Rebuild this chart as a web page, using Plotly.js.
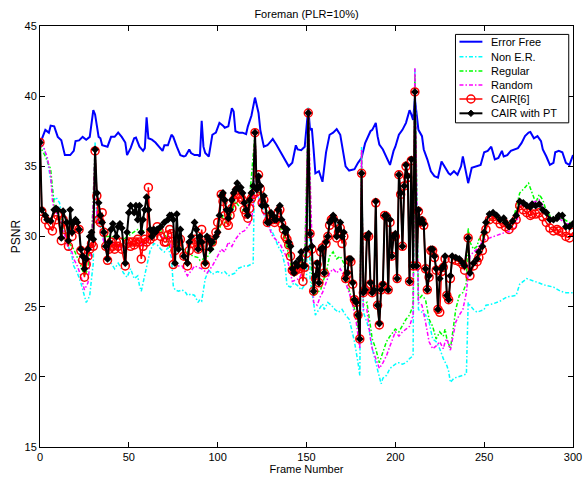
<!DOCTYPE html>
<html>
<head>
<meta charset="utf-8">
<script src="https://cdn.plot.ly/plotly-3.0.1.min.js"></script>
<style>html,body{margin:0;padding:0;background:#fff;}#chart{width:585px;height:481px;}</style>
</head>
<body>
<div id="chart"></div>
<script>
// ---- data (frame, PSNR) ----
var seriesNames = ["Error Free", "Non E.R.", "Regular", "Random", "CAIR[6]", "CAIR with PT"];
var xTicks = [0, 50, 100, 150, 200, 250, 300];
var yTicks = [15, 20, 25, 30, 35, 40, 45];

var errorFree = [[0,36.6],[3,37.6],[5,37.4],[6,37.9],[8,37.85],[10,37.1],[12,36.85],[14,35.8],[17,35.8],[19,36.1],[20,36.8],[22,36.85],[24,37.1],[26,36.9],[28,37.1],[29,38.3],[30,39.0],[31,38.7],[33,37.1],[34,37.0],[35,36.5],[38,36.4],[40,37.1],[42,37.1],[44,37.4],[46,37.1],[48,36.7],[49,35.8],[51,36.3],[53,37.0],[54,37.05],[56,36.4],[58,36.1],[59,36.3],[60,38.5],[61,37.0],[63,36.9],[65,36.7],[67,36.4],[69,36.1],[70,36.5],[72,36.5],[74,37.25],[75,37.1],[77,36.4],[79,35.8],[81,35.7],[82,35.75],[84,36.2],[85,35.95],[87,35.8],[89,35.8],[90,35.7],[91,38.25],[92,36.4],[93,35.95],[95,35.7],[96,36.4],[97,37.25],[99,37.4],[101,38.1],[103,37.9],[104,37.75],[106,37.85],[108,39.15],[109,38.9],[110,37.5],[112,37.4],[114,37.4],[116,37.3],[117,37.85],[119,38.6],[121,39.9],[123,38.8],[124,37.6],[126,36.4],[128,36.5],[130,36.8],[131,36.95],[133,36.55],[135,36.1],[137,35.6],[140,35.0],[142,35.25],[144,36.5],[145,36.2],[147,36.15],[149,36.4],[151,39.15],[152,37.6],[153,37.7],[154,36.2],[155,34.5],[157,34.65],[159,33.9],[161,36.0],[163,37.25],[165,37.4],[167,37.65],[169,37.25],[170,36.4],[172,35.0],[174,34.7],[177,34.8],[179,35.25],[181,35.6],[183,36.65],[185,37.25],[186,37.5],[187,37.6],[189,38.1],[190,37.15],[191,36.55],[193,36.2],[195,35.7],[197,35.1],[199,36.1],[200,36.4],[202,37.25],[204,37.6],[206,38.1],[208,39.0],[209,38.7],[210,38.3],[211,39.8],[213,37.6],[215,37.15],[216,36.2],[218,35.5],[220,34.65],[222,34.3],[224,34.2],[226,35.35],[228,34.9],[230,34.5],[231,34.4],[233,34.65],[235,34.4],[237,35.0],[238,35.7],[239,35.1],[241,33.8],[243,34.9],[245,35.0],[246,35.0],[248,35.1],[250,36.0],[252,36.1],[254,36.4],[256,35.5],[258,35.6],[260,36.1],[261,35.7],[263,35.8],[265,36.1],[267,36.2],[269,36.3],[271,36.65],[273,37.15],[275,37.4],[276,37.45],[278,37.0],[280,37.15],[282,36.8],[283,36.2],[285,35.7],[287,35.1],[289,35.25],[290,36.0],[292,36.1],[294,36.0],[296,35.25],[298,35.1],[300,35.8]];

var nonER = [[0,36.6],[2,36.4],[4,35.5],[5,34.8],[6,33.8],[7,33.1],[8,32.6],[9,32.8],[10,32.6],[11,32.4],[12,31.7],[14,30.3],[16,29.3],[18,28.6],[19,27.9],[21,27.4],[23,26.7],[25,25.8],[26,25.3],[27,25.5],[28,25.8],[29,27.0],[30,28.1],[31,36.7],[32,31.0],[33,31.2],[34,30.7],[36,29.6],[38,28.6],[40,28.1],[42,27.7],[44,28.1],[45,27.9],[47,27.4],[49,27.1],[51,27.7],[53,27.0],[55,27.2],[56,26.5],[57,26.1],[58,26.7],[60,27.9],[62,29.0],[64,29.5],[66,29.4],[68,29.1],[70,28.9],[72,29.2],[74,28.5],[75,26.5],[76,26.2],[78,26.1],[80,26.2],[82,26.0],[83,25.8],[85,25.9],[87,25.8],[89,25.3],[90,25.5],[91,25.4],[93,27.0],[95,27.6],[97,27.3],[98,27.4],[100,27.5],[102,27.4],[104,27.5],[106,27.2],[108,27.3],[110,27.4],[111,27.7],[113,27.8],[115,27.9],[117,27.9],[119,28.0],[120,28.1],[121,37.3],[122,33.1],[125,32.2],[128,31.0],[132,30.0],[134,29.3],[136,28.9],[138,27.9],[139,26.5],[141,26.4],[143,26.7],[145,26.5],[147,26.2],[149,26.5],[150,26.7],[151,39.2],[152,27.0],[155,24.4],[157,24.8],[159,25.2],[160,24.8],[162,25.3],[164,25.1],[166,24.8],[168,24.6],[170,24.8],[172,24.4],[174,24.1],[175,23.6],[177,22.5],[179,21.0],[180,20.1],[181,36.4],[182,24.6],[184,23.9],[186,22.9],[187,22.0],[189,21.0],[191,19.9],[192,19.5],[193,19.9],[195,20.1],[197,20.6],[199,20.8],[201,21.0],[202,21.0],[204,20.9],[206,21.0],[208,21.3],[210,21.5],[211,42.0],[213,24.8],[215,24.6],[217,24.4],[219,23.9],[221,22.7],[223,22.5],[225,22.0],[227,21.3],[229,20.8],[230,20.4],[231,19.6],[233,19.9],[235,20.0],[237,20.1],[240,20.2],[241,25.3],[242,25.1],[244,24.8],[246,24.6],[248,24.7],[250,24.8],[251,25.1],[255,25.2],[259,25.4],[263,25.7],[268,25.8],[270,26.6],[274,27.0],[278,26.8],[281,26.7],[285,26.5],[289,26.4],[293,26.1],[296,26.0],[300,26.0]];

var regular = [[0,36.6],[1,36.2],[3,35.7],[6,34.8],[8,32.2],[12,31.2],[16,29.6],[19,29.1],[23,27.9],[25,27.2],[27,27.7],[29,29.6],[31,36.3],[32,31.5],[36,30.0],[40,30.0],[47,29.8],[55,30.5],[62,30.3],[66,30.5],[70,30.3],[75,28.6],[78,29.5],[82,29.0],[86,28.6],[89,28.5],[90,28.3],[94,28.5],[98,29.3],[101,30.5],[103,31.5],[104,31.0],[106,31.0],[110,32.5],[114,31.8],[118,32.8],[121,37.3],[122,33.5],[126,32.3],[130,31.2],[134,31.0],[138,29.8],[142,27.5],[146,27.8],[149,28.5],[151,39.0],[153,26.8],[154,25.8],[156,26.0],[158,26.2],[159,26.7],[161,27.4],[163,28.6],[165,28.9],[167,28.4],[169,28.6],[171,28.1],[172,27.2],[174,26.2],[176,25.3],[178,24.4],[180,22.7],[181,36.0],[182,25.1],[184,25.3],[186,23.6],[187,22.7],[189,22.0],[191,21.0],[193,21.75],[195,22.5],[197,22.9],[199,23.2],[200,23.4],[202,23.2],[204,23.6],[206,24.1],[208,24.4],[210,25.1],[211,41.5],[213,25.5],[215,25.8],[217,25.5],[219,24.1],[221,23.6],[223,22.7],[225,23.2],[227,22.9],[228,23.4],[229,22.7],[231,22.0],[232,22.9],[234,24.8],[236,25.8],[238,26.0],[240,26.7],[241,30.6],[242,29.6],[244,29.1],[246,29.3],[247,29.8],[249,30.0],[251,30.8],[253,31.0],[255,31.3],[257,31.3],[259,31.2],[262,31.0],[266,31.0],[270,33.1],[273,33.5],[275,33.8],[277,33.1],[279,32.4],[281,33.0],[283,32.6],[285,31.8],[287,31.5],[291,31.2],[294,31.3],[298,31.0],[300,31.0]];

var random = [[0,36.6],[2,36.4],[3,36.0],[4,35.7],[6,34.3],[7,32.6],[8,31.9],[10,31.5],[12,31.0],[14,30.0],[16,29.1],[18,28.9],[19,28.4],[21,27.9],[23,27.2],[25,26.2],[27,26.7],[28,28.1],[29,29.1],[31,36.3],[32,31.2],[34,30.5],[36,29.6],[38,29.1],[40,29.6],[44,29.3],[47,29.1],[51,29.6],[55,29.8],[58,29.3],[62,30.0],[66,30.3],[70,29.8],[73,30.0],[75,28.1],[77,27.9],[80,27.9],[83,27.2],[87,27.9],[91,27.7],[94,27.4],[97,27.9],[98,28.1],[100,28.6],[102,29.1],[104,28.9],[106,29.6],[108,29.3],[110,29.8],[111,30.0],[113,30.3],[115,30.4],[117,30.7],[119,31.1],[120,32.2],[121,37.3],[122,33.1],[124,32.2],[128,31.0],[131,30.0],[135,29.5],[139,28.5],[142,26.8],[146,27.0],[149,28.0],[151,39.1],[154,25.3],[156,25.1],[158,25.8],[159,26.0],[161,26.7],[163,27.4],[165,27.7],[167,27.4],[169,27.7],[171,27.2],[172,26.7],[174,26.0],[176,25.1],[178,23.9],[180,22.0],[181,36.2],[182,24.8],[184,24.8],[186,22.7],[187,22.0],[189,21.3],[191,20.6],[193,21.0],[195,21.5],[197,22.2],[199,22.9],[200,23.2],[202,22.9],[204,23.2],[206,23.4],[208,23.6],[210,24.4],[211,42.0],[213,25.3],[215,25.1],[217,23.9],[219,22.5],[221,22.0],[223,22.2],[225,22.5],[227,22.0],[228,22.5],[229,22.7],[231,21.9],[232,22.5],[234,23.9],[236,24.4],[238,24.8],[240,26.0],[242,28.6],[244,28.9],[246,29.1],[247,29.3],[249,29.6],[251,29.8],[253,29.9],[255,30.0],[259,30.2],[262,30.3],[266,30.4],[268,30.7],[270,32.2],[274,32.3],[277,32.4],[281,32.6],[283,32.2],[285,31.5],[289,31.2],[292,31.3],[296,30.9],[300,30.9]];

var cair6 = [[0,36.7],[1,31.8],[3,31.2],[5,30.8],[7,30.4],[9,31.2],[10,31.5],[12,29.7],[13,31.2],[14,30.5],[16,29.3],[17,30.8],[18,30.0],[20,30.6],[22,30.5],[23,29.0],[24,28.3],[25,27.1],[26,28.0],[27,28.6],[28,29.1],[29,29.5],[30,29.3],[31,36.1],[32,32.9],[33,31.2],[34,31.0],[35,31.7],[36,30.3],[37,29.3],[38,28.3],[39,29.1],[40,29.6],[41,29.3],[42,29.1],[43,29.6],[44,29.3],[45,29.6],[46,29.1],[48,27.9],[49,29.5],[50,29.6],[51,29.3],[52,29.6],[53,29.4],[54,29.6],[55,29.8],[56,29.6],[57,28.4],[58,29.3],[59,29.8],[60,29.6],[61,33.5],[62,29.8],[63,30.3],[64,30.0],[66,30.7],[67,30.4],[68,30.0],[70,29.6],[71,29.6],[72,30.1],[73,30.5],[74,30.2],[75,28.0],[76,29.0],[77,29.6],[78,29.6],[79,29.8],[81,28.6],[83,27.9],[84,29.0],[85,29.5],[87,29.8],[88,29.6],[89,29.1],[90,29.3],[91,30.5],[93,28.0],[94,29.3],[95,29.8],[97,29.6],[99,30.3],[100,31.0],[102,33.0],[103,32.5],[104,31.5],[105,31.0],[106,30.8],[107,31.5],[108,32.0],[109,32.6],[110,33.0],[111,33.3],[112,33.0],[113,32.8],[114,32.6],[115,31.9],[116,31.6],[117,31.3],[118,32.0],[119,32.7],[120,33.0],[121,37.4],[122,33.2],[123,34.4],[124,33.4],[125,32.4],[126,32.6],[127,31.9],[128,31.0],[129,31.2],[130,31.4],[131,31.2],[132,31.0],[133,31.2],[134,31.7],[135,31.9],[136,30.9],[137,30.5],[138,30.0],[139,29.8],[140,29.4],[141,28.6],[142,27.6],[143,27.5],[144,27.6],[145,27.8],[146,27.7],[147,27.9],[148,26.8],[149,27.8],[150,28.8],[151,38.8],[152,30.2],[153,29.1],[154,26.1],[155,27.0],[156,28.0],[157,26.7],[158,28.9],[159,29.2],[160,27.4],[161,29.5],[162,30.0],[163,30.8],[164,31.2],[165,31.3],[166,31.0],[167,29.9],[168,30.3],[169,30.6],[170,29.5],[171,30.0],[172,27.0],[173,27.3],[174,28.3],[175,28.2],[176,26.6],[177,25.5],[178,25.3],[179,24.4],[180,22.7],[181,34.5],[182,26.0],[183,26.2],[184,30.0],[185,30.0],[186,26.6],[187,26.0],[188,26.2],[189,32.4],[190,25.1],[191,23.7],[192,26.2],[193,26.5],[194,31.5],[195,31.4],[196,26.2],[197,31.0],[198,28.6],[199,30.0],[200,30.0],[201,27.0],[202,34.4],[203,33.0],[204,29.3],[205,33.6],[206,35.0],[207,34.2],[208,26.8],[209,35.4],[210,27.9],[211,40.3],[212,27.9],[213,31.8],[214,31.0],[215,31.1],[216,30.8],[217,27.7],[218,26.2],[219,27.1],[220,29.0],[221,29.0],[222,28.5],[223,27.6],[224,24.8],[225,24.6],[226,27.5],[227,27.8],[228,28.4],[229,25.8],[230,25.5],[231,27.0],[232,28.4],[234,28.3],[236,28.2],[238,28.0],[239,27.6],[241,29.9],[242,27.2],[244,27.9],[246,28.2],[247,28.5],[249,29.0],[250,29.9],[251,30.5],[253,31.2],[255,31.4],[257,31.2],[259,30.9],[261,31.0],[262,30.7],[264,30.5],[266,30.8],[268,31.2],[270,32.2],[272,31.9],[274,31.7],[276,31.5],[277,31.6],[279,31.6],[281,31.7],[283,31.4],[285,31.0],[287,30.6],[289,30.4],[291,30.5],[292,30.4],[294,30.3],[296,30.0],[298,29.9],[300,30.3]];

var cairPT = [[0,36.7],[1,31.9],[3,31.5],[4,31.2],[6,31.1],[8,31.9],[9,32.0],[10,31.9],[12,29.9],[13,31.8],[15,31.0],[16,29.7],[17,31.9],[18,30.3],[19,31.0],[20,31.2],[21,31.0],[22,30.5],[23,29.1],[24,28.6],[25,27.7],[26,28.4],[27,29.1],[28,30.0],[29,30.3],[30,29.8],[31,36.2],[32,33.1],[33,32.4],[34,31.5],[35,31.0],[36,30.3],[37,29.3],[38,28.4],[39,29.6],[40,30.5],[41,30.9],[43,30.0],[44,30.7],[45,30.9],[46,30.6],[48,28.1],[49,30.3],[50,31.7],[51,32.2],[53,31.7],[54,32.2],[55,31.2],[56,32.2],[57,30.3],[58,31.2],[59,31.9],[60,32.8],[61,31.9],[62,30.5],[63,30.0],[64,30.5],[65,30.3],[66,30.5],[68,30.7],[70,31.0],[72,31.2],[73,31.5],[74,31.5],[75,31.2],[76,28.1],[77,31.6],[78,29.1],[79,30.5],[81,28.6],[83,28.1],[84,29.6],[85,30.0],[87,31.0],[88,30.5],[89,29.1],[90,30.0],[91,29.6],[93,28.1],[94,30.0],[95,29.8],[96,29.1],[97,29.6],[99,30.0],[100,30.3],[101,31.5],[102,32.9],[103,33.1],[104,32.6],[105,31.9],[106,31.3],[107,31.9],[108,32.6],[109,33.1],[110,33.35],[111,33.8],[112,33.4],[113,33.5],[114,33.1],[115,32.4],[116,31.9],[117,31.5],[118,32.6],[119,33.1],[120,33.6],[121,37.4],[122,33.35],[123,34.3],[124,33.6],[125,32.2],[126,32.9],[127,32.2],[128,31.0],[129,31.0],[130,31.7],[131,31.5],[132,31.2],[133,31.2],[134,31.9],[135,32.2],[136,31.2],[137,30.7],[138,30.3],[139,30.5],[140,29.6],[141,29.3],[142,27.7],[143,27.4],[144,28.1],[145,27.9],[146,28.4],[147,28.9],[148,27.9],[149,27.9],[150,29.1],[151,38.8],[152,30.2],[153,29.3],[154,26.1],[155,27.2],[156,28.1],[157,26.7],[158,29.1],[159,29.2],[160,27.4],[161,29.6],[162,30.0],[163,31.0],[164,31.2],[165,31.5],[166,31.2],[167,30.0],[168,30.5],[169,31.0],[170,30.0],[171,30.3],[172,27.0],[173,27.4],[174,28.4],[175,28.4],[176,26.7],[177,25.5],[178,25.3],[179,24.4],[180,22.7],[181,34.5],[182,26.0],[183,26.2],[184,30.0],[185,30.2],[186,26.7],[187,26.0],[188,26.2],[189,32.5],[190,25.1],[191,23.8],[192,26.2],[193,26.6],[194,31.5],[195,31.5],[196,26.2],[197,31.2],[198,28.6],[199,30.0],[200,30.2],[201,27.0],[202,34.4],[203,33.1],[204,29.3],[205,33.6],[206,35.1],[207,34.3],[208,26.8],[209,35.5],[210,27.9],[211,40.3],[212,27.9],[213,31.9],[214,31.0],[215,31.2],[216,30.9],[217,27.7],[218,26.2],[219,27.2],[220,29.1],[221,29.1],[222,28.6],[223,27.7],[224,24.8],[225,27.0],[226,27.7],[227,27.9],[228,28.6],[229,25.8],[230,25.5],[231,27.2],[232,28.6],[234,28.5],[236,28.4],[238,28.1],[239,27.9],[241,29.9],[242,27.4],[244,28.1],[246,28.4],[247,28.9],[249,29.3],[250,30.3],[251,31.0],[253,31.6],[255,31.7],[257,31.5],[259,31.2],[261,31.3],[262,31.0],[264,30.7],[266,31.1],[268,31.5],[270,32.5],[272,32.4],[274,32.2],[276,32.1],[277,32.3],[279,32.2],[281,32.3],[283,31.9],[285,31.7],[287,31.2],[289,31.2],[291,31.3],[292,31.5],[294,31.5],[296,30.7],[298,30.7],[300,30.9]];

// ---- styling ----
var FONT = "Arial, 'Liberation Sans', Helvetica, sans-serif";
var DASHDOT = "4px,2px,1.5px,2px";
var styles = [
  {color: "#0000FF", width: 2, dash: "solid", mode: "lines"},
  {color: "#00FFFF", width: 1.5, dash: DASHDOT, mode: "lines"},
  {color: "#00FF00", width: 1.5, dash: DASHDOT, mode: "lines"},
  {color: "#FF00FF", width: 1.5, dash: DASHDOT, mode: "lines"},
  {color: "#FF0000", width: 1.5, dash: "solid", mode: "lines+markers",
   marker: {symbol: "circle-open", size: 8, color: "#FF0000", line: {width: 1.5, color: "#FF0000"}}},
  {color: "#000000", width: 2, dash: "solid", mode: "lines+markers",
   marker: {symbol: "diamond", size: 6, color: "#000000"}}
];
var allData = [errorFree, nonER, regular, random, cair6, cairPT];

var traces = allData.map(function (d, i) {
  var s = styles[i];
  var t = {
    type: "scatter",
    x: d.map(function (p) { return p[0]; }),
    y: d.map(function (p) { return p[1]; }),
    name: seriesNames[i],
    mode: s.mode,
    line: {color: s.color, width: s.width, dash: s.dash},
    showlegend: false,
    hoverinfo: "skip"
  };
  if (s.marker) t.marker = s.marker;
  return t;
});

// ---- hand-drawn legend box (MATLAB style, compact rows) ----
var L = {x0: 0.7795, x1: 0.992, y0: 0.770, y1: 0.980};
var rowY = [0.9627, 0.927, 0.893, 0.8598, 0.8266, 0.7926];
var sx0 = 0.787, sx1 = 0.830, sxc = 0.8085, tx = 0.842;
var shapes = [{type: "rect", xref: "paper", yref: "paper", x0: L.x0, x1: L.x1, y0: L.y0, y1: L.y1,
  line: {color: "#000", width: 1}, fillcolor: "#fff", layer: "above"}];
var annotations = [];
seriesNames.forEach(function (nm, i) {
  var s = styles[i];
  shapes.push({type: "line", xref: "paper", yref: "paper", x0: sx0, x1: sx1, y0: rowY[i], y1: rowY[i],
    line: {color: s.color, width: s.width, dash: s.dash}, layer: "above"});
  annotations.push({xref: "paper", yref: "paper", x: tx, y: rowY[i], xanchor: "left", yanchor: "middle",
    text: nm, showarrow: false, font: {family: FONT, size: 11, color: "#000"}});
});
// legend marker glyphs
var rx = 4 / 533, ry = 4 / 421;
shapes.push({type: "circle", xref: "paper", yref: "paper", x0: sxc - rx, x1: sxc + rx,
  y0: rowY[4] - ry, y1: rowY[4] + ry, line: {color: "#FF0000", width: 1.5}, layer: "above"});
var dx = 3.2 / 533, dy = 3.2 / 421;
shapes.push({type: "path", xref: "paper", yref: "paper",
  path: "M" + (sxc - dx) + "," + rowY[5] + " L" + sxc + "," + (rowY[5] + dy) + " L" + (sxc + dx) + "," + rowY[5] +
        " L" + sxc + "," + (rowY[5] - dy) + " Z",
  fillcolor: "#000", line: {color: "#000", width: 1}, layer: "above"});

var axisCommon = {
  showline: true, linecolor: "#000", linewidth: 1, mirror: "ticks",
  ticks: "inside", ticklen: 5, tickcolor: "#000", tickwidth: 1,
  showgrid: false, zeroline: false,
  tickfont: {family: FONT, size: 11, color: "#000"}
};

var layout = {
  width: 585, height: 481,
  margin: {l: 40, r: 12, t: 26, b: 34, pad: 0},
  paper_bgcolor: "#fff", plot_bgcolor: "#fff",
  font: {family: FONT, size: 11, color: "#000"},
  title: {text: "Foreman (PLR=10%)", font: {family: FONT, size: 11, color: "#000"},
          xref: "paper", x: 0.5, xanchor: "center", y: 0.971, yanchor: "middle"},
  xaxis: Object.assign({}, axisCommon, {
    range: [0, 300], tickvals: xTicks, ticktext: xTicks.map(String),
    title: {text: "Frame Number", font: {family: FONT, size: 11, color: "#000"}, standoff: 3}
  }),
  yaxis: Object.assign({}, axisCommon, {
    range: [15, 45], tickvals: yTicks, ticktext: yTicks.map(String),
    title: {text: "PSNR", font: {family: FONT, size: 12, color: "#000"}, standoff: 1}
  }),
  showlegend: false,
  shapes: shapes,
  annotations: annotations
};

Plotly.newPlot("chart", traces, layout, {staticPlot: true, displayModeBar: false});
</script>
</body>
</html>
